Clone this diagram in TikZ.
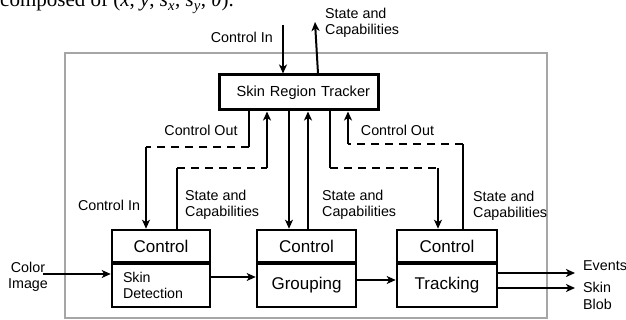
\documentclass[tikz,border=0pt]{standalone}
\usepackage{fontspec}
\setmainfont{Liberation Sans}
\newfontfamily\capfont{Liberation Serif}
\usetikzlibrary{arrows.meta}
\definecolor{framegrey}{RGB}{166,166,166}
\begin{document}
\begin{tikzpicture}[x=1pt,y=-1pt,
  lbl/.style={font=\fontsize{14.3}{16.5}\selectfont, inner sep=0pt, align=left},
  box/.style={draw, line width=2.6pt, inner sep=0pt, minimum height=32.5pt},
  ctrltext/.style={font=\fontsize{17}{20}\selectfont},
  lowbox/.style={draw, line width=2.6pt, inner sep=0pt, minimum height=43pt},
  conn/.style={line width=2pt},
  arr/.style={conn, -{Stealth[length=9pt,width=8pt,inset=2.5pt]}},
  dashln/.style={conn, dash pattern=on 8pt off 6pt},
]
\useasboundingbox (0,0) rectangle (626,320);

% cropped caption text at the top
\node[anchor=base west, inner sep=0pt, font=\capfont\fontsize{21}{24}\selectfont] (cap) at (0,7)
  {composed of (\textit{x}, \textit{y}, \textit{s}\textsubscript{\textit{x}}, \textit{s}\textsubscript{\textit{y}}, \textit{θ}).};

% grey frame
\draw[line width=2pt, framegrey] (65,53) rectangle (547,318);

% tracker
\node[draw, line width=3pt, minimum width=159pt, minimum height=35pt, inner xsep=8pt, inner ysep=0pt,
      text width=143pt, align=right, font=\fontsize{14.6}{17}\selectfont] (tracker) at (298.5,92.5) {Skin Region Tracker};

% modules
\node[box, ctrltext, minimum width=98pt] (ctrlA) at (161,246.25) {Control};
\node[lowbox, minimum width=98pt, text width=76pt, align=left, font=\fontsize{14.2}{16}\selectfont] (skinA) at (161,285.5) {Skin\\Detection};
\node[box, ctrltext, minimum width=99pt] (ctrlB) at (306.5,246.25) {Control};
\node[lowbox, ctrltext, minimum width=99pt] (grpB) at (306.5,285.5) {Grouping};
\node[box, ctrltext, minimum width=100pt] (ctrlC) at (447,246.25) {Control};
\node[lowbox, ctrltext, minimum width=100pt] (trkC) at (447,285.5) {Tracking};

% top connectors
\coordinate (ciTop) at (283,25);
\draw[arr] (ciTop) -- (ciTop |- tracker.north);
\coordinate (scTop) at (315,22);
\coordinate (scBot) at (318,0);
\draw[arr] (scBot |- tracker.north) -- (scTop);

% control out (left)
\coordinate (a1) at (249,147); \coordinate (a2) at (146,147);
\draw[conn] (a1 |- tracker.south) -- (a1);
\draw[dashln] (a1) -- (a2);
\draw[arr] (a2) -- (a2 |- ctrlA.north);

% state from skin detection
\coordinate (b1) at (177,168); \coordinate (b2) at (267,168);
\draw[conn] (b1 |- ctrlA.north) -- (b1);
\draw[dashln] (b1) -- (b2);
\draw[arr] (b2) -- (b2 |- tracker.south);

% grouping
\coordinate (c1) at (289,0);
\draw[arr] (c1 |- tracker.south) -- (c1 |- ctrlB.north);
\coordinate (d1) at (308,0);
\draw[arr] (d1 |- ctrlB.north) -- (d1 |- tracker.south);

% control to tracking
\coordinate (e1) at (330,168); \coordinate (e2) at (438,168);
\draw[conn] (e1 |- tracker.south) -- (e1);
\draw[dashln] (e1) -- (e2);
\draw[arr] (e2) -- (e2 |- ctrlC.north);

% state from tracking
\coordinate (f1) at (463,144); \coordinate (f2) at (348,144);
\draw[conn] (f1 |- ctrlC.north) -- (f1);
\draw[dashln] (f1) -- (f2);
\draw[arr] (f2) -- (f2 |- tracker.south);

% data flow
\coordinate (colIn) at (43,274);
\draw[arr] (colIn) -- (colIn -| skinA.west);
\coordinate (y277) at (0,277);
\draw[arr] (skinA.east |- y277) -- (grpB.west |- y277);
\coordinate (y280) at (0,280);
\draw[arr] (grpB.east |- y280) -- (trkC.west |- y280);
\coordinate (evEnd) at (575,273);
\draw[arr] (trkC.east |- evEnd) -- (evEnd);
\coordinate (sbEnd) at (575,288);
\draw[arr] (trkC.east |- sbEnd) -- (sbEnd);

% labels
\node[lbl, anchor=east] (lCinTop) at (273,37) {Control In};
\node[lbl, anchor=west] (lScTop) at (325,23) {State and\\Capabilities};
\node[lbl] (lCoutL) at (201,130) {Control Out};
\node[lbl] (lCoutR) at (397.5,130) {Control Out};
\node[lbl] (lCinA) at (109,205) {Control In};
\node[lbl, anchor=west] (lScA) at (185,205) {State and\\Capabilities};
\node[lbl, anchor=west] (lScB) at (322,205) {State and\\Capabilities};
\node[lbl, anchor=west] (lScC) at (473,206) {State and\\Capabilities};
\node[lbl, align=center] (lColor) at (28,277) {Color\\Image};
\node[lbl, anchor=west] (lEv) at (583,266) {Events};
\node[lbl, anchor=west] (lSb) at (583,296) {Skin\\Blob};
\end{tikzpicture}
\end{document}
